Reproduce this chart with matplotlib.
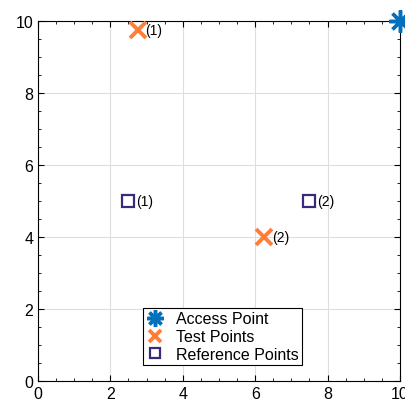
import numpy as np
import matplotlib
matplotlib.use('Agg')
import matplotlib.pyplot as plt
from matplotlib.ticker import MultipleLocator

plt.rcParams['font.family'] = ['Liberation Sans', 'DejaVu Sans']

# data
ap_x, ap_y = [10], [10]
test_x = [2.75, 6.25]
test_y = [9.75, 4.0]
test_lbl = ['(1)', '(2)']
ref_x = [2.5, 7.5]
ref_y = [5.0, 5.0]
ref_lbl = ['(1)', '(2)']

fig = plt.figure(figsize=(4.06, 4.10), dpi=100)
ax = fig.add_axes([38/406, 28/410, 362/406, 360/410])

ax.plot(ap_x, ap_y, linestyle='none', marker=(8, 2, 0), markersize=16,
        markeredgewidth=2.5, color='#0072BD', label='Access Point', clip_on=False, zorder=5)
ax.plot(test_x, test_y, linestyle='none', marker='x', markersize=11,
        markeredgewidth=2.8, color='#FF7F3A', label='Test Points', zorder=5)
ax.plot(ref_x, ref_y, linestyle='none', marker='s', markersize=9,
        markeredgewidth=1.6, markerfacecolor='none', markeredgecolor='#3A2A7A',
        label='Reference Points', zorder=5)

for x, y, t in zip(test_x, test_y, test_lbl):
    ax.text(x + 0.22, y, t, fontsize=10, va='center', ha='left')
for x, y, t in zip(ref_x, ref_y, ref_lbl):
    ax.text(x + 0.22, y, t, fontsize=10, va='center', ha='left')

ax.set_xlim(0, 10)
ax.set_ylim(0, 10)
ax.xaxis.set_major_locator(MultipleLocator(2))
ax.yaxis.set_major_locator(MultipleLocator(2))
ax.xaxis.set_minor_locator(MultipleLocator(0.5))
ax.yaxis.set_minor_locator(MultipleLocator(0.5))
ax.tick_params(which='both', direction='in', top=True, right=True, labelsize=11.5)
ax.tick_params(which='major', length=4, width=0.8)
ax.tick_params(which='minor', length=2, width=0.6)
ax.grid(True, which='major', color='#DEDEDE', linewidth=0.8)
ax.set_axisbelow(True)
for s in ax.spines.values():
    s.set_linewidth(0.8)

leg = ax.legend(loc='lower center', bbox_to_anchor=(0.51, 0.044), borderaxespad=0,
                fontsize=11.5, frameon=True, fancybox=False, edgecolor='black',
                framealpha=1, handlelength=1.1, handletextpad=0.8, borderpad=0.2,
                labelspacing=0.18, markerscale=0.75)
leg.get_frame().set_linewidth(0.8)

fig.savefig('out.png', dpi=100)
